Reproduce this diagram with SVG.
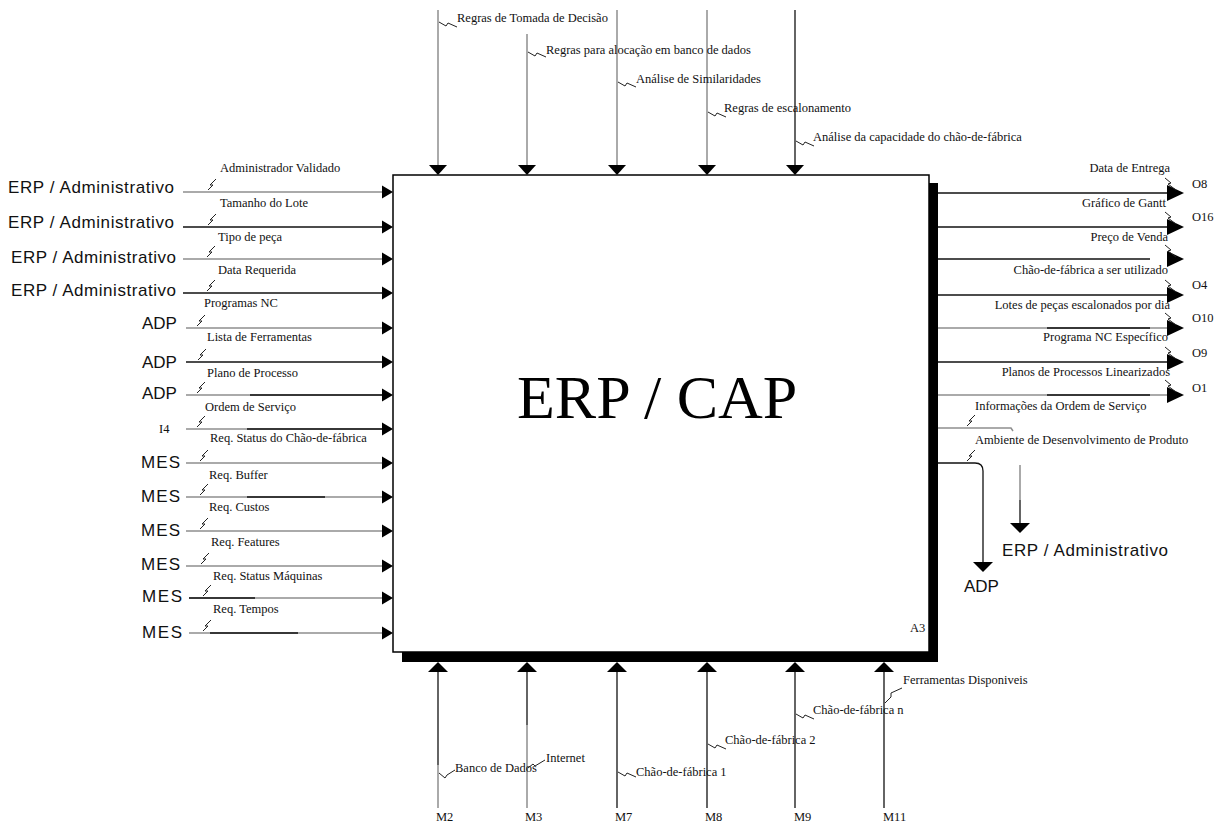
<svg xmlns="http://www.w3.org/2000/svg" xmlns:xlink="http://www.w3.org/1999/xlink" width="1221" height="825" viewBox="0 0 1221 825">
  <style>
    .t { font-family: "Liberation Serif", "Times New Roman", serif; font-size: 12.5px; fill: #111; }
    .big { font-family: "Liberation Serif", "Times New Roman", serif; font-size: 62px; fill: #000; }
    .s { font-family: "Liberation Sans", Arial, sans-serif; font-size: 17px; fill: #111; }
    .k { stroke: #111; stroke-width: 1.3; fill: none; }
    .g { stroke: #8e8e8e; stroke-width: 1.5; fill: none; }
    .sq { stroke: #222; stroke-width: 1; fill: none; }
    .ah { fill: #000; }
  </style>
  <defs>
    <!-- squiggle joining a label to its arrow -->
    <path id="sqL" class="sq" d="M0,0 L5,-5 L2,-5 L8,-11"/>
    <path id="sqT" class="sq" d="M0,0 L7,4 L9,1 L18,5"/>
    <path id="sqB" class="sq" d="M0,0 L6,5 L8,2 L16,-3"/>
    <path id="sqR" class="sq" d="M0,0 L6,5 L3,6 L11,12"/>
    <!-- arrowheads -->
    <path id="ahR" class="ah" d="M0,0 L-11,-6.5 L-11,6.5 Z"/>
    <path id="ahRo" class="ah" d="M0,0 L-17,-8 L-17,8 Z"/>
    <path id="ahD" class="ah" d="M0,0 L-9,-10 L9,-10 Z"/>
    <path id="ahU" class="ah" d="M0,0 L-10,10 L10,10 Z"/>
  </defs>

  <rect width="1221" height="825" fill="#fff"/>

  <!-- activity box -->
  <g id="box-a3">
    <polygon points="929,183 938,183 938,662 402,662 402,652 929,652" fill="#000"/>
    <rect x="393" y="175" width="536" height="477" fill="#fff" stroke="#000" stroke-width="1.5"/>
    <text class="big" x="517" y="418">ERP / CAP</text>
    <text class="t" x="910" y="632">A3</text>
  </g>

  <g id="connectors">
    <!-- controls (top) -->
    <line class="g" x1="438" y1="10" x2="438" y2="166"/>
    <line class="g" x1="527" y1="34" x2="527" y2="166"/>
    <line class="g" x1="617" y1="10" x2="617" y2="166"/>
    <line class="g" x1="707" y1="10" x2="707" y2="166"/>
    <line class="k" x1="795" y1="10" x2="795" y2="166"/>
    <use xlink:href="#ahD" x="438" y="175"/>
    <use xlink:href="#ahD" x="527" y="175"/>
    <use xlink:href="#ahD" x="617" y="175"/>
    <use xlink:href="#ahD" x="707" y="175"/>
    <use xlink:href="#ahD" x="795" y="175"/>
    <use xlink:href="#sqT" x="439" y="22"/>
    <use xlink:href="#sqT" x="528" y="52"/>
    <use xlink:href="#sqT" x="618" y="82"/>
    <use xlink:href="#sqT" x="708" y="112"/>
    <use xlink:href="#sqT" x="796" y="141"/>

    <!-- inputs (left) -->
    <line class="g" x1="183" y1="192" x2="384" y2="192"/>
    <line class="k" x1="183" y1="227" x2="384" y2="227" stroke="#3a3a3a"/>
    <line class="g" x1="183" y1="259" x2="384" y2="259"/>
    <line class="k" x1="183" y1="293" x2="384" y2="293"/>
    <line class="g" x1="186" y1="328" x2="384" y2="328"/>
    <line class="k" x1="186" y1="362" x2="384" y2="362"/>
    <line class="g" x1="186" y1="395" x2="384" y2="395"/>
    <line class="k" x1="250" y1="395" x2="384" y2="395"/>
    <line class="g" x1="186" y1="429" x2="384" y2="429"/>
    <line class="k" x1="247" y1="429" x2="384" y2="429"/>
    <line class="g" x1="186" y1="463" x2="384" y2="463" stroke="#555"/>
    <line class="g" x1="186" y1="497" x2="384" y2="497"/>
    <line class="k" x1="247" y1="497" x2="325" y2="497" stroke="#444"/>
    <line class="g" x1="186" y1="531" x2="384" y2="531"/>
    <line class="g" x1="186" y1="566" x2="384" y2="566"/>
    <line class="g" x1="189" y1="598" x2="384" y2="598"/>
    <line class="k" x1="189" y1="598" x2="255" y2="598"/>
    <line class="g" x1="189" y1="633" x2="384" y2="633"/>
    <line class="k" x1="210" y1="633" x2="298" y2="633"/>
    <use xlink:href="#ahR" x="393" y="192"/>
    <use xlink:href="#ahR" x="393" y="227"/>
    <use xlink:href="#ahR" x="393" y="259"/>
    <use xlink:href="#ahR" x="393" y="293"/>
    <use xlink:href="#ahR" x="393" y="328"/>
    <use xlink:href="#ahR" x="393" y="362"/>
    <use xlink:href="#ahR" x="393" y="395"/>
    <use xlink:href="#ahR" x="393" y="429"/>
    <use xlink:href="#ahR" x="393" y="463"/>
    <use xlink:href="#ahR" x="393" y="497"/>
    <use xlink:href="#ahR" x="393" y="531"/>
    <use xlink:href="#ahR" x="393" y="566"/>
    <use xlink:href="#ahR" x="393" y="598"/>
    <use xlink:href="#ahR" x="393" y="633"/>
    <use xlink:href="#sqL" x="208" y="190"/>
    <use xlink:href="#sqL" x="208" y="225"/>
    <use xlink:href="#sqL" x="207" y="257"/>
    <use xlink:href="#sqL" x="207" y="291"/>
    <use xlink:href="#sqL" x="197" y="326"/>
    <use xlink:href="#sqL" x="198" y="360"/>
    <use xlink:href="#sqL" x="197" y="393"/>
    <use xlink:href="#sqL" x="197" y="427"/>
    <use xlink:href="#sqL" x="200" y="461"/>
    <use xlink:href="#sqL" x="200" y="495"/>
    <use xlink:href="#sqL" x="200" y="529"/>
    <use xlink:href="#sqL" x="201" y="564"/>
    <use xlink:href="#sqL" x="203" y="596"/>
    <use xlink:href="#sqL" x="203" y="631"/>

    <!-- outputs (right) -->
    <line class="k" x1="938" y1="193" x2="1168" y2="193"/>
    <line class="k" x1="938" y1="227" x2="1168" y2="227"/>
    <line class="k" x1="938" y1="259" x2="1150" y2="259"/>
    <line class="k" x1="938" y1="295" x2="1168" y2="295"/>
    <line class="g" x1="938" y1="328" x2="1168" y2="328"/>
    <line class="k" x1="1047" y1="328" x2="1150" y2="328"/>
    <line class="k" x1="938" y1="362" x2="1168" y2="362"/>
    <line class="g" x1="938" y1="395" x2="1168" y2="395"/>
    <line class="k" x1="1047" y1="395" x2="1150" y2="395"/>
    <path class="g" d="M938,428 L1011,428 L1013,431"/>
    <path class="k" d="M938,463 L975,463 Q983,463 983,471 L983,563" stroke="#333"/>
    <line class="g" x1="1020" y1="465" x2="1020" y2="500" stroke="#b0b0b0"/>
    <line class="k" x1="1020" y1="500" x2="1020" y2="524"/>
    <use xlink:href="#ahRo" x="1184" y="193"/>
    <use xlink:href="#ahRo" x="1184" y="227"/>
    <use xlink:href="#ahRo" x="1184" y="259"/>
    <use xlink:href="#ahRo" x="1184" y="295"/>
    <use xlink:href="#ahRo" x="1184" y="328"/>
    <use xlink:href="#ahRo" x="1184" y="362"/>
    <use xlink:href="#ahRo" x="1184" y="395"/>
    <path class="ah" d="M983,572 L973,562 L993,562 Z"/>
    <path class="ah" d="M1020,533 L1010,523 L1030,523 Z"/>
    <use xlink:href="#sqR" x="1165" y="178"/>
    <use xlink:href="#sqR" x="1165" y="212"/>
    <use xlink:href="#sqR" x="1165" y="245"/>
    <use xlink:href="#sqR" x="1165" y="280"/>
    <use xlink:href="#sqR" x="1165" y="313"/>
    <use xlink:href="#sqR" x="1165" y="347"/>
    <use xlink:href="#sqR" x="1165" y="380"/>
    <use xlink:href="#sqL" x="967" y="426"/>
    <use xlink:href="#sqL" x="967" y="461"/>

    <!-- mechanisms (bottom) -->
    <line class="k" x1="438" y1="671" x2="438" y2="765"/>
    <line class="g" x1="438" y1="765" x2="438" y2="808"/>
    <line class="k" x1="527" y1="671" x2="527" y2="725"/>
    <line class="g" x1="527" y1="725" x2="527" y2="808"/>
    <line class="k" x1="617" y1="671" x2="617" y2="808"/>
    <line class="k" x1="707" y1="671" x2="707" y2="808"/>
    <line class="k" x1="795" y1="671" x2="795" y2="808"/>
    <line class="k" x1="884" y1="671" x2="884" y2="808"/>
    <use xlink:href="#ahU" x="438" y="662"/>
    <use xlink:href="#ahU" x="527" y="662"/>
    <use xlink:href="#ahU" x="617" y="662"/>
    <use xlink:href="#ahU" x="707" y="662"/>
    <use xlink:href="#ahU" x="795" y="662"/>
    <use xlink:href="#ahU" x="884" y="662"/>
    <use xlink:href="#sqB" x="439" y="773"/>
    <path class="sq" d="M528,768 L533,764 L535,766 L545,760"/>
    <use xlink:href="#sqT" x="618" y="772"/>
    <use xlink:href="#sqT" x="708" y="744"/>
    <use xlink:href="#sqT" x="796" y="714"/>
    <path class="sq" d="M885,703 L891,697 L891,693 L902,688"/>
  </g>

  <!-- control labels -->
  <g id="controls">
    <text class="t" x="457" y="22">Regras de Tomada de Decisão</text>
    <text class="t" x="546" y="54">Regras para alocação em banco de dados</text>
    <text class="t" x="636" y="83">Análise de Similaridades</text>
    <text class="t" x="724" y="112">Regras de escalonamento</text>
    <text class="t" x="813" y="141">Análise da capacidade do chão-de-fábrica</text>
  </g>

  <!-- input sources and labels -->
  <g id="inputs">
    <text class="s" x="8" y="193" textLength="166">ERP / Administrativo</text>
    <text class="s" x="8" y="228" textLength="166">ERP / Administrativo</text>
    <text class="s" x="11" y="263" textLength="165">ERP / Administrativo</text>
    <text class="s" x="11" y="296" textLength="165">ERP / Administrativo</text>
    <text class="s" x="142" y="329">ADP</text>
    <text class="s" x="142" y="368">ADP</text>
    <text class="s" x="142" y="399">ADP</text>
    <text class="t" x="159" y="433">I4</text>
    <text class="s" x="141" y="468" textLength="39">MES</text>
    <text class="s" x="141" y="502" textLength="39">MES</text>
    <text class="s" x="141" y="536" textLength="39">MES</text>
    <text class="s" x="141" y="570" textLength="39">MES</text>
    <text class="s" x="142" y="602" textLength="40">MES</text>
    <text class="s" x="142" y="638" textLength="40">MES</text>

    <text class="t" x="220" y="172">Administrador Validado</text>
    <text class="t" x="220" y="207">Tamanho do Lote</text>
    <text class="t" x="218" y="241">Tipo de peça</text>
    <text class="t" x="218" y="274">Data Requerida</text>
    <text class="t" x="204" y="307">Programas NC</text>
    <text class="t" x="207" y="341">Lista de Ferramentas</text>
    <text class="t" x="207" y="377">Plano de Processo</text>
    <text class="t" x="205" y="411">Ordem de Serviço</text>
    <text class="t" x="210" y="442">Req. Status do Chão-de-fábrica</text>
    <text class="t" x="209" y="479">Req. Buffer</text>
    <text class="t" x="209" y="511">Req. Custos</text>
    <text class="t" x="211" y="546">Req. Features</text>
    <text class="t" x="213" y="580">Req. Status Máquinas</text>
    <text class="t" x="213" y="613">Req. Tempos</text>
  </g>

  <!-- output labels and targets -->
  <g id="outputs">
    <text class="t" x="1170" y="172" text-anchor="end">Data de Entrega</text>
    <text class="t" x="1166" y="207" text-anchor="end">Gráfico de Gantt</text>
    <text class="t" x="1168" y="241" text-anchor="end">Preço de Venda</text>
    <text class="t" x="1168" y="274" text-anchor="end">Chão-de-fábrica a ser utilizado</text>
    <text class="t" x="1170" y="309" text-anchor="end">Lotes de peças escalonados por dia</text>
    <text class="t" x="1168" y="341" text-anchor="end">Programa NC Específico</text>
    <text class="t" x="1170" y="376" text-anchor="end">Planos de Processos Linearizados</text>
    <text class="t" x="975" y="410">Informações da Ordem de Serviço</text>
    <text class="t" x="975" y="444">Ambiente de Desenvolvimento de Produto</text>

    <text class="t" x="1192" y="188">O8</text>
    <text class="t" x="1192" y="221">O16</text>
    <text class="t" x="1192" y="289">O4</text>
    <text class="t" x="1192" y="322">O10</text>
    <text class="t" x="1192" y="357">O9</text>
    <text class="t" x="1192" y="392">O1</text>

    <text class="s" x="1002" y="556" textLength="166">ERP / Administrativo</text>
    <text class="s" x="964" y="592">ADP</text>
  </g>

  <!-- mechanism labels -->
  <g id="mechanisms">
    <text class="t" x="455" y="772">Banco de Dados</text>
    <text class="t" x="546" y="762">Internet</text>
    <text class="t" x="636" y="776">Chão-de-fábrica 1</text>
    <text class="t" x="725" y="744">Chão-de-fábrica 2</text>
    <text class="t" x="813" y="714">Chão-de-fábrica n</text>
    <text class="t" x="903" y="684">Ferramentas Disponiveis</text>
    <text class="t" x="436" y="821">M2</text>
    <text class="t" x="525" y="821">M3</text>
    <text class="t" x="615" y="821">M7</text>
    <text class="t" x="705" y="821">M8</text>
    <text class="t" x="794" y="821">M9</text>
    <text class="t" x="883" y="821">M11</text>
  </g>
</svg>
